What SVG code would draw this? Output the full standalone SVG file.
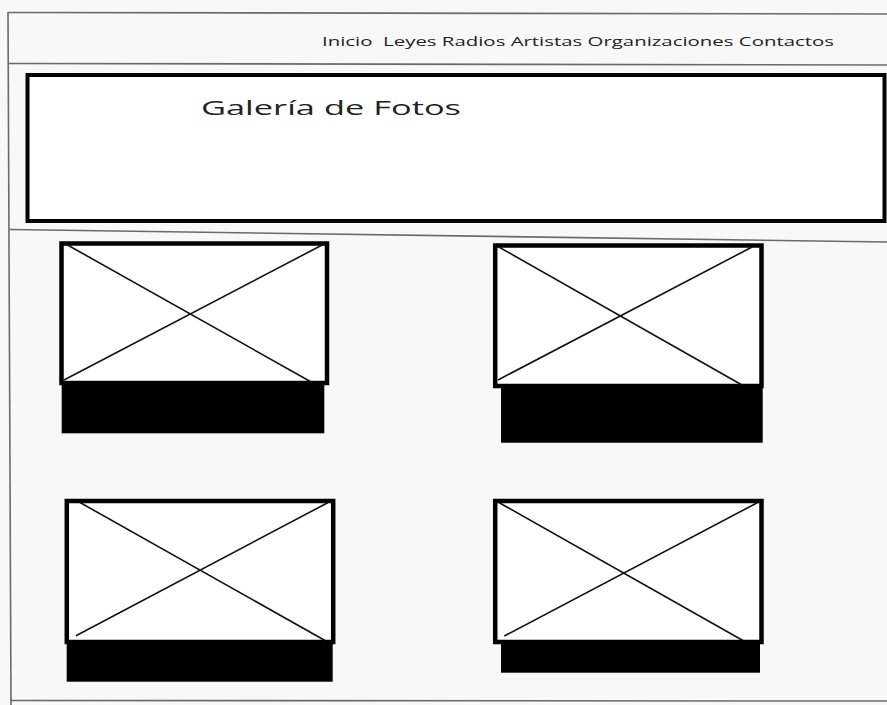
<svg xmlns="http://www.w3.org/2000/svg" width="887" height="705" viewBox="0 0 887 705">
<style>
.bg{fill:#f8f8f8}
.rule{stroke:#6a6a6a;stroke-width:1.6;fill:none}
.frame{fill:#fff;stroke:#000;stroke-width:4.5}
.diag{stroke:#111;stroke-width:1.6;fill:none}
.bar{fill:#000}
.nav{font-family:"Open Sans","Noto Sans",sans-serif;font-size:13px;fill:#222}
.title{font-family:"Open Sans","Noto Sans",sans-serif;font-size:20px;fill:#222}
</style>
<rect class="bg" x="0" y="0" width="887" height="705"/>
<g id="page-lines">
<line class="rule" x1="8" y1="12" x2="11" y2="705"/>
<line class="rule" x1="8" y1="12.5" x2="887" y2="14"/>
<line class="rule" x1="8" y1="63.5" x2="887" y2="65"/>
<line class="rule" x1="10" y1="229.5" x2="887" y2="242"/>
<line class="rule" x1="10" y1="700.5" x2="887" y2="701"/>
</g>
<g id="nav">
<text class="nav" x="322" y="46" textLength="512" lengthAdjust="spacingAndGlyphs" xml:space="preserve">Inicio  Leyes Radios Artistas Organizaciones Contactos</text>
</g>
<g id="header">
<rect x="27.5" y="75" width="857" height="146" fill="#fff" stroke="#000" stroke-width="4"/>
<text class="title" x="201" y="115" textLength="260" lengthAdjust="spacingAndGlyphs">Galería de Fotos</text>
</g>
<g id="photo1">
<rect class="frame" x="61.5" y="243.5" width="265.5" height="139.5"/>
<line class="diag" x1="64" y1="243" x2="313" y2="383"/>
<line class="diag" x1="64" y1="380" x2="325" y2="243.5"/>
<rect class="bar" x="61.7" y="383" width="262.6" height="50.3"/>
</g>
<g id="photo2">
<rect class="frame" x="495.2" y="245.5" width="266.3" height="140.5"/>
<line class="diag" x1="498" y1="246.5" x2="742" y2="385"/>
<line class="diag" x1="498" y1="380" x2="753" y2="246.5"/>
<rect class="bar" x="501" y="385" width="261.7" height="57.7"/>
</g>
<g id="photo3">
<rect class="frame" x="66.8" y="501" width="266.4" height="141"/>
<line class="diag" x1="80" y1="502.5" x2="325" y2="640.5"/>
<line class="diag" x1="76" y1="635.7" x2="327.7" y2="502.7"/>
<rect class="bar" x="66.7" y="640.5" width="266" height="41.2"/>
</g>
<g id="photo4">
<rect class="frame" x="495.2" y="501" width="266.3" height="141"/>
<line class="diag" x1="499.3" y1="502.7" x2="743.3" y2="640.7"/>
<line class="diag" x1="504.3" y1="636" x2="757.3" y2="502.7"/>
<rect class="bar" x="501" y="640.5" width="259" height="32.2"/>
</g>
</svg>
